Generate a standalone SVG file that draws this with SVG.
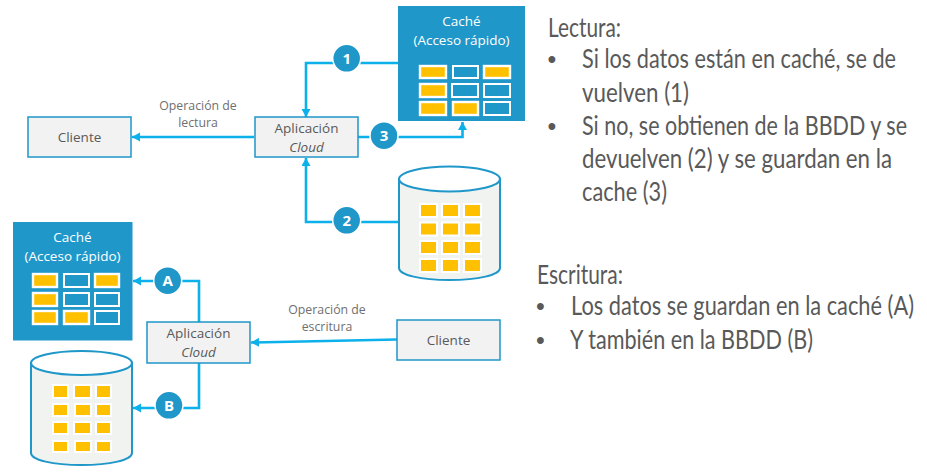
<svg xmlns="http://www.w3.org/2000/svg" width="927" height="473" viewBox="0 0 927 473">
<style>
text{font-family:"Open Sans","Noto Sans","Liberation Sans",sans-serif;fill:#595959}
.box{fill:#f2f2f2;stroke:#1f97c9;stroke-width:1.5}
.cache{fill:#1f97c9}
.cyl{fill:#f1f3f1;stroke:#1f97c9;stroke-width:2}
.top{fill:#fff;stroke:#1f97c9;stroke-width:2}
.on{fill:#ffc000;stroke:#fff;stroke-width:2.4}
.off{fill:#1f97c9;stroke:#fff;stroke-width:2}
.db{fill:#ffc000;stroke:#fff;stroke-width:2}
.lab{font-size:13.5px;text-anchor:middle}
.small{font-size:12.300px;text-anchor:middle;fill:#6f6f6f}
.wht{font-size:13.500px;text-anchor:middle;fill:#fff}
.conn{fill:none;stroke:#0cb0ea;stroke-width:2.600}
.badge{fill:#1f97c9;stroke:#fff;stroke-width:1.500}
.bt{font-size:15px;font-weight:700;text-anchor:middle;fill:#fff}
.body{font-family:"Lato","Open Sans",sans-serif;font-size:27px;font-weight:400;fill:#595959}
.dot{font-family:"Liberation Sans",sans-serif;font-size:25px;fill:#595959;text-anchor:middle}
</style>
<defs>
<marker id="arr" markerUnits="userSpaceOnUse" markerWidth="10" markerHeight="10" refX="8" refY="4.500" orient="auto"><path d="M0 0L8 4.500L0 9z" fill="#0cb0ea"/></marker>
</defs>
<g id="connectors">
<path class="conn" marker-end="url(#arr)" d="M398 63H306V117"/>
<path class="conn" marker-end="url(#arr)" d="M358 137H462.500V122"/>
<path class="conn" marker-end="url(#arr)" d="M399 222H306V158"/>
<path class="conn" marker-end="url(#arr)" d="M254 137H132"/>
<path class="conn" marker-end="url(#arr)" d="M199 322V281H133"/>
<path class="conn" marker-end="url(#arr)" d="M199 363V408H133"/>
<path class="conn" marker-end="url(#arr)" d="M397 339.500L251 342.500"/>
</g>
<g id="cliente-lectura"><rect class="box" x="28" y="117" width="103" height="40"/><text class="lab" x="79.500" y="142">Cliente</text></g>
<g id="app-lectura"><rect class="box" x="255" y="117" width="103" height="40"/><text class="lab" x="306.500" y="133">Aplicación</text><text class="lab" x="306.500" y="152" font-style="italic">Cloud</text></g>
<g id="cache-lectura">
<rect class="cache" x="398" y="6" width="127" height="115"/>
<text class="wht" x="461.500" y="26">Caché</text><text class="wht" x="461.500" y="45">(Acceso rápido)</text>
<rect class="on" x="420" y="66" width="26" height="12"/><rect class="off" x="453" y="66" width="25" height="12"/><rect class="on" x="484" y="66" width="26" height="12"/>
<rect class="on" x="420" y="84" width="26" height="13"/><rect class="off" x="452" y="84" width="26" height="13"/><rect class="off" x="484" y="84" width="26" height="13"/>
<rect class="on" x="420" y="102" width="26" height="13"/><rect class="on" x="453" y="102" width="25" height="13"/><rect class="off" x="484" y="102" width="26" height="13"/>
</g>
<g id="bbdd-lectura">
<path class="cyl" d="M399 179V268C399 275 421 280 449.500 280S500 275 500 268V179z"/>
<ellipse class="top" cx="449.500" cy="179" rx="50.500" ry="12.500"/>
<rect class="db" x="420" y="204" width="17" height="13"/><rect class="db" x="442" y="204" width="17" height="13"/><rect class="db" x="464" y="204" width="17" height="13"/>
<rect class="db" x="420" y="222.500" width="17" height="13"/><rect class="db" x="442" y="222.500" width="17" height="13"/><rect class="db" x="464" y="222.500" width="17" height="13"/>
<rect class="db" x="420" y="241" width="17" height="13"/><rect class="db" x="442" y="241" width="17" height="13"/><rect class="db" x="464" y="241" width="17" height="13"/>
<rect class="db" x="420" y="259" width="17" height="13"/><rect class="db" x="442" y="259" width="17" height="13"/><rect class="db" x="464" y="259" width="17" height="13"/>
</g>
<g id="cache-escritura">
<rect class="cache" x="13" y="222" width="119.500" height="118.500"/>
<text class="wht" x="72.500" y="242">Caché</text><text class="wht" x="72.500" y="261">(Acceso rápido)</text>
<rect class="on" x="33" y="274" width="24" height="13"/><rect class="off" x="64" y="274" width="25" height="13"/><rect class="on" x="95" y="274" width="24" height="13"/>
<rect class="on" x="33" y="293" width="24" height="13"/><rect class="off" x="64" y="293" width="25" height="13"/><rect class="off" x="95" y="293" width="24" height="13"/>
<rect class="on" x="33" y="311" width="24" height="13"/><rect class="on" x="64" y="311" width="25" height="13"/><rect class="off" x="95" y="311" width="24" height="13"/>
</g>
<g id="bbdd-escritura">
<path class="cyl" d="M31 363V453C31 460 53 465 81.500 465S132 460 132 453V363z"/>
<ellipse class="top" cx="81.500" cy="363" rx="50.500" ry="12"/>
<rect class="db" x="53" y="385" width="15" height="13"/><rect class="db" x="74" y="385" width="17" height="13"/><rect class="db" x="96" y="385" width="15" height="13"/>
<rect class="db" x="53" y="404" width="15" height="12"/><rect class="db" x="75" y="404" width="16" height="12"/><rect class="db" x="96" y="404" width="15" height="12"/>
<rect class="db" x="53" y="422" width="15" height="12"/><rect class="db" x="74" y="422" width="17" height="12"/><rect class="db" x="96" y="422" width="15" height="12"/>
<rect class="db" x="53" y="441" width="15" height="11"/><rect class="db" x="75" y="441" width="16" height="11"/><rect class="db" x="96" y="441" width="15" height="11"/>
</g>
<g id="app-escritura"><rect class="box" x="147" y="322" width="103" height="41"/><text class="lab" x="198.500" y="338">Aplicación</text><text class="lab" x="198.500" y="357" font-style="italic">Cloud</text></g>
<g id="cliente-escritura"><rect class="box" x="397" y="320" width="103" height="40"/><text class="lab" x="448.500" y="345">Cliente</text></g>
<g id="labels">
<text class="small" x="198" y="110">Operación de</text><text class="small" x="198" y="127">lectura</text>
<text class="small" x="327" y="314">Operación de</text><text class="small" x="327" y="331">escritura</text>
</g>
<g id="badge-1"><circle class="badge" cx="346.700" cy="58.300" r="14"/><text class="bt" x="346.700" y="63.500">1</text></g>
<g id="badge-3"><circle class="badge" cx="384" cy="135.700" r="14"/><text class="bt" x="384" y="141">3</text></g>
<g id="badge-2"><circle class="badge" cx="346.700" cy="220.300" r="14"/><text class="bt" x="346.700" y="225.500">2</text></g>
<g id="badge-a"><circle class="badge" cx="167.700" cy="280.700" r="14"/><text class="bt" x="167.700" y="286">A</text></g>
<g id="badge-b"><circle class="badge" cx="169" cy="405.300" r="14"/><text class="bt" x="169" y="410.500">B</text></g>
<g id="texto">
<text class="body" transform="translate(548 36.500) scale(.8 1)" textLength="91.250" lengthAdjust="spacingAndGlyphs">Lectura:</text>
<text class="dot" x="552" y="68">•</text>
<text class="body" transform="translate(582 68) scale(.8 1)" textLength="392.500" lengthAdjust="spacingAndGlyphs">Si los datos están en caché, se de</text>
<text class="body" transform="translate(582 101.500) scale(.8 1)" textLength="133.750" lengthAdjust="spacingAndGlyphs">vuelven (1)</text>
<text class="dot" x="552" y="135">•</text>
<text class="body" transform="translate(582 135) scale(.8 1)" textLength="406.250" lengthAdjust="spacingAndGlyphs">Si no, se obtienen de la BBDD y se</text>
<text class="body" transform="translate(582 167.500) scale(.8 1)" textLength="387.500" lengthAdjust="spacingAndGlyphs">devuelven (2) y se guardan en la</text>
<text class="body" transform="translate(582 201) scale(.8 1)" textLength="106.250" lengthAdjust="spacingAndGlyphs">cache (3)</text>
<text class="body" transform="translate(537 283.500) scale(.8 1)" textLength="107.500" lengthAdjust="spacingAndGlyphs">Escritura:</text>
<text class="dot" x="540.500" y="315">•</text>
<text class="body" transform="translate(571 315) scale(.8 1)" textLength="428.750" lengthAdjust="spacingAndGlyphs">Los datos se guardan en la caché (A)</text>
<text class="dot" x="540.500" y="349">•</text>
<text class="body" transform="translate(570 349) scale(.8 1)" textLength="303.750" lengthAdjust="spacingAndGlyphs">Y también en la BBDD (B)</text>
</g>
</svg>
